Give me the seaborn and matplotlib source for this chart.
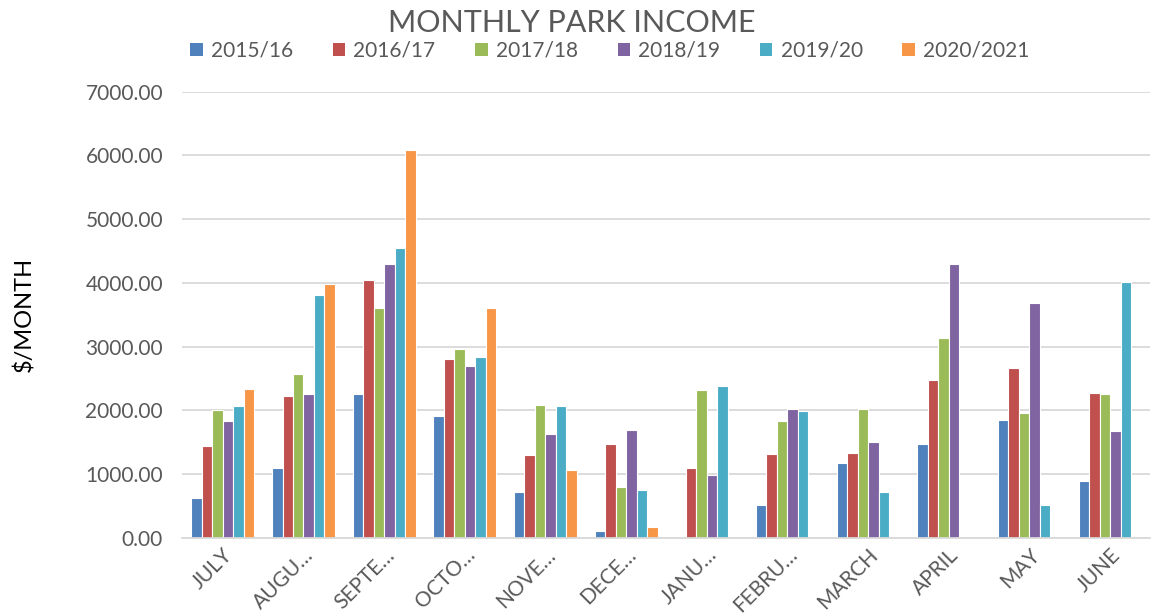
import numpy as np
import pandas as pd
import matplotlib
matplotlib.use("Agg")
import matplotlib.pyplot as plt
import seaborn as sns
from matplotlib.patches import Patch

months = ["JULY", "AUGU…", "SEPTE…", "OCTO…", "NOVE…", "DECE…",
          "JANU…", "FEBRU…", "MARCH", "APRIL", "MAY", "JUNE"]
seasons = ["2015/16", "2016/17", "2017/18", "2018/19", "2019/20", "2020/2021"]

s2015 = [623, 1089, 2251, 1911, 712, 99, np.nan, 508, 1168, 1476, 1853, 895]
s2016 = [1445, 2230, 4042, 2806, 1293, 1476, 1089, 1319, 1335, 2476, 2670, 2267]
s2017 = [2000, 2576, 3613, 2963, 2079, 801, 2325, 1838, 2016, 3131, 1958, 2251]
s2018 = [1827, 2251, 4304, 2702, 1634, 1696, 984, 2016, 1497, 4304, 3681, 1670]
s2019 = [2068, 3817, 4545, 2832, 2063, 749, 2387, 1984, 723, np.nan, 518, 4021]
s2020 = [2335, 3979, 6079, 3613, 1063, 173, np.nan, np.nan, np.nan, np.nan, np.nan, np.nan]

colors = ["#4F81BD", "#C0504D", "#9BBB59", "#8064A2", "#4BACC6", "#F79646"]

series = [s2015, s2016, s2017, s2018, s2019, s2020]
rows = []
for season, vals in zip(seasons, series):
    for m, v in zip(months, vals):
        rows.append({"month": m, "season": season, "income": v})
df = pd.DataFrame(rows).dropna()

sns.set_theme(style="white")
plt.rcParams["font.family"] = ["Lato", "DejaVu Sans"]

fig = plt.figure(figsize=(11.55, 6.16), dpi=100)
ax = fig.add_axes([0.158, 0.127, 0.838, 0.724])

sns.barplot(data=df, x="month", y="income", hue="season",
            order=months, hue_order=seasons, palette=colors,
            width=0.78, errorbar=None, edgecolor="white", linewidth=0.8,
            saturation=1, ax=ax, legend=False)

ax.set_ylim(0, 7000)
ax.set_xlim(-0.5, 11.5)
ax.set_yticks(np.arange(0, 7001, 1000))
ax.set_yticklabels([f"{v:.2f}" for v in np.arange(0, 7001, 1000)],
                   fontsize=15, color="#595959")
ax.yaxis.grid(True, color="#D9D9D9", linewidth=1.3)
ax.set_axisbelow(True)
for s in ["top", "right", "left"]:
    ax.spines[s].set_visible(False)
ax.spines["bottom"].set_color("#D9D9D9")
ax.spines["bottom"].set_linewidth(1.3)
ax.tick_params(axis="both", length=0)
ax.tick_params(axis="y", pad=14)
ax.set_xticks(range(len(months)))
ax.set_xticklabels(months, rotation=45, ha="right", rotation_mode="anchor",
                   fontsize=15, color="#595959")
ax.tick_params(axis="x", pad=5)
ax.set_xlabel("")
ax.set_ylabel("$/MONTH", fontsize=17, color="black")
ax.yaxis.set_label_coords(-0.152, 0.5)

fig.text(0.495, 0.962, "MONTHLY PARK INCOME", ha="center", va="center",
         fontsize=22, color="#595959")

handles = [Patch(facecolor=c, edgecolor="none") for c in colors]
fig.legend(handles, seasons, loc="center", bbox_to_anchor=(0.528, 0.918),
           ncol=6, frameon=False, fontsize=15, labelcolor="#595959",
           handlelength=0.6, handleheight=0.6, handletextpad=0.4,
           columnspacing=1.9)

fig.savefig("out.png", dpi=100)
